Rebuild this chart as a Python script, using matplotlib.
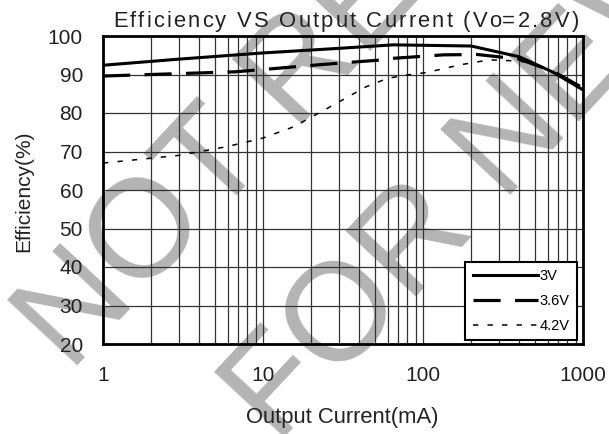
import numpy as np
import matplotlib.pyplot as plt
from matplotlib.ticker import LogLocator, NullFormatter, FixedLocator
from matplotlib.font_manager import FontProperties

plt.rcParams['font.family'] = ['Liberation Sans', 'DejaVu Sans']

# readings
i_3v = [1, 3, 10, 30, 65, 200, 400, 650, 1000]
eff_3v = [92.4, 94.0, 95.6, 96.8, 97.7, 97.4, 94.6, 90.6, 86.0]

i_36v = [1, 6.7, 10, 22, 36, 56, 65, 134, 218, 400, 650, 1000]
eff_36v = [89.6, 90.7, 91.3, 92.5, 93.2, 93.8, 94.2, 95.1, 95.2, 94.0, 90.8, 86.5]

i_42v = [1, 3, 6, 10, 15.5, 24, 44, 60, 80, 105, 170, 260, 400, 510, 700, 1000]
eff_42v = [67.0, 69.0, 71.3, 73.5, 76.4, 80.7, 86.8, 89.0, 89.9, 90.5, 92.5, 93.8, 93.5, 92.5, 90.0, 86.5]

x_ticks = [1, 10, 100, 1000]
x_labels = ['1', '10', '100', '1000']

series = [
    ('3V', i_3v, eff_3v, dict(ls='-', lw=2.2)),
    ('3.6V', i_36v, eff_36v, dict(ls=(0, (8.5, 4.5)), lw=2.3)),
    ('4.2V', i_42v, eff_42v, dict(ls=(0, (3.5, 6)), lw=1.1)),
]

W, H = 609, 434
fig = plt.figure(figsize=(W / 100, H / 100), dpi=100)
ax = fig.add_axes([103 / W, 1 - 344 / H, 480 / W, 308 / H])
ax.patch.set_alpha(0)

for name, x, y, st in series:
    ax.plot(x, y, color='black', label=name, zorder=3, **st)

ax.set_xscale('log')
ax.set_xlim(1, 1000)
ax.set_ylim(20, 100)
ax.set_yticks(np.arange(20, 101, 10))
ax.xaxis.set_major_locator(FixedLocator(x_ticks))
ax.set_xticklabels(x_labels)
ax.xaxis.set_minor_locator(LogLocator(base=10, subs=np.arange(2, 10)))
ax.xaxis.set_minor_formatter(NullFormatter())
ax.tick_params(which='both', length=0, labelsize=15, colors='#222222')
ax.tick_params(axis='x', pad=16)
ax.tick_params(axis='y', pad=14.4)
ax.grid(True, which='both', color='#333333', lw=0.9)
for s in ax.spines.values():
    s.set_linewidth(2)

ax.set_xlabel('Output Current(mA)', fontsize=15.8, color='#222222', va='top')
ax.xaxis.set_label_coords((342 - 103) / 480, (344 - 407) / 308)
ax.set_ylabel('Efficiency(%)', fontsize=15, color='#222222')
ax.yaxis.set_label_coords((33 - 103) / 480, (344 - 191) / 308)

leg = ax.legend(loc='lower right', bbox_to_anchor=((577 - 103) / 480, 4 / 308),
                borderaxespad=0, fontsize=10.5, handlelength=4.5, handletextpad=0.1,
                fancybox=False, framealpha=1, edgecolor='black', labelspacing=0.75,
                borderpad=0.5)
leg.get_frame().set_linewidth(1.5)

# title: the reference spaces its letters out, so place them one by one
title = 'Efficiency VS Output Current (Vo=2.8V)'
prop = FontProperties(family='Liberation Sans', size=15.8)
renderer = fig.canvas.get_renderer()


def text_w(s):
    return renderer.get_text_width_height_descent(s, prop, ismath=False)[0]


track = 2.2
bar = text_w('|')
total = text_w(title) + (len(title) - 1) * track
x0 = 346 - total / 2
for i, ch in enumerate(title):
    if ch == ' ':
        continue
    off = (text_w(title[:i] + '|') - bar if i else 0) + i * track
    fig.text((x0 + off) / W, 1 - 26.7 / H, ch, fontproperties=prop,
             color='#222222', ha='left', va='baseline')

# watermark, behind the chart
fig.text(0.115, 0.14, 'NOT RECOMMENDED', rotation=47, rotation_mode='anchor',
         fontsize=100, color='#b4b4b4', ha='left', va='baseline', zorder=-1)
fig.text(0.455, -0.025, 'FOR NEW DESIGNS', rotation=47, rotation_mode='anchor',
         fontsize=100, color='#b4b4b4', ha='left', va='baseline', zorder=-1)

fig.savefig('out.png', dpi=100)
